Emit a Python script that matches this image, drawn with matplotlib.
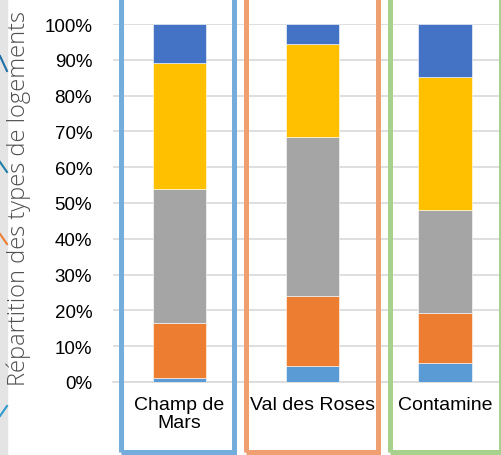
import numpy as np
import matplotlib.pyplot as plt
from matplotlib.patches import Rectangle
from matplotlib.lines import Line2D

# data (share of each housing type, %)
quartiers = ['Champ de\nMars', 'Val des Roses', 'Contamine']
type1 = [1.0, 4.4, 5.3]
type2 = [15.6, 19.7, 14.0]
type3 = [37.3, 44.2, 28.7]
type4 = [35.1, 26.1, 37.2]
type5 = [11.0, 5.6, 14.8]
series = [type1, type2, type3, type4, type5]
colors = ['#5B9BD5', '#ED7D31', '#A5A5A5', '#FFC000', '#4472C4']
ticks = [0, 10, 20, 30, 40, 50, 60, 70, 80, 90, 100]

W, H = 501, 456
fig = plt.figure(figsize=(W / 100, H / 100), dpi=100)

# plot area (pixels from top-left): x 113 -> 511, y 25 -> 383
left, right, top, bottom = 113, 511.4, 25, 383
ax = fig.add_axes([left / W, (H - bottom) / H, (right - left) / W, (bottom - top) / H])
ax.set_xlim(-0.5, 2.5)
ax.set_ylim(0, 100)

x = np.arange(len(quartiers))
base = np.zeros(len(quartiers))
for vals, c in zip(series, colors):
    ax.bar(x, vals, 0.4, bottom=base, color=c, edgecolor='white', linewidth=0.4, zorder=3)
    base += np.array(vals)

ax.set_yticks(ticks)
ax.set_yticklabels([f'{t}%' for t in ticks], fontsize=13.5, family='Liberation Sans', color='#000000')
ax.set_xticks(x)
ax.set_xticklabels(quartiers, fontsize=14, family='Liberation Sans', linespacing=1.1)
ax.tick_params(axis='y', length=0, pad=15)
ax.tick_params(axis='x', length=0, pad=10)
ax.grid(axis='y', color='#D9D9D9', linewidth=1.2, zorder=0)
for s in ['left', 'right', 'top']:
    ax.spines[s].set_visible(False)
ax.spines['bottom'].set_color('#D9D9D9')
ax.spines['bottom'].set_linewidth(1.2)

fig.text(19 / W, 1 - 199 / H, 'Répartition des types de logements', rotation=90,
         ha='center', va='center', fontsize=17, family='Open Sans', fontweight='light',
         color='#505050')

# left gray strip with decoration lines
fig.add_artist(Rectangle((0, 0), 7 / W, 1, transform=fig.transFigure,
                         color='#E4E4E4', zorder=0))
deco = [((0, 57), (7, 72), '#1F6FA8'),
        ((0, 163), (7, 173), '#1F7FA8'),
        ((0, 235), (7, 245), '#ED7D31'),
        ((0, 417), (7, 407), '#2E9AD0')]
for (x0, y0), (x1, y1), c in deco:
    fig.add_artist(Line2D([x0 / W, x1 / W], [1 - y0 / H, 1 - y1 / H],
                          transform=fig.transFigure, color=c, lw=1.5))

# colored frames around each neighbourhood
frames = [(120.5, 233.5, '#74ACDC'), (245.5, 377.5, '#F0A070'), (389.5, 501.5, '#A9D18E')]
for x0, x1, c in frames:
    fig.add_artist(Rectangle((x0 / W, 1 - 452.5 / H), (x1 - x0) / W, 460 / H,
                             transform=fig.transFigure, fill=False, edgecolor=c,
                             linewidth=3.6, zorder=5))

fig.savefig('out.png', dpi=100)
